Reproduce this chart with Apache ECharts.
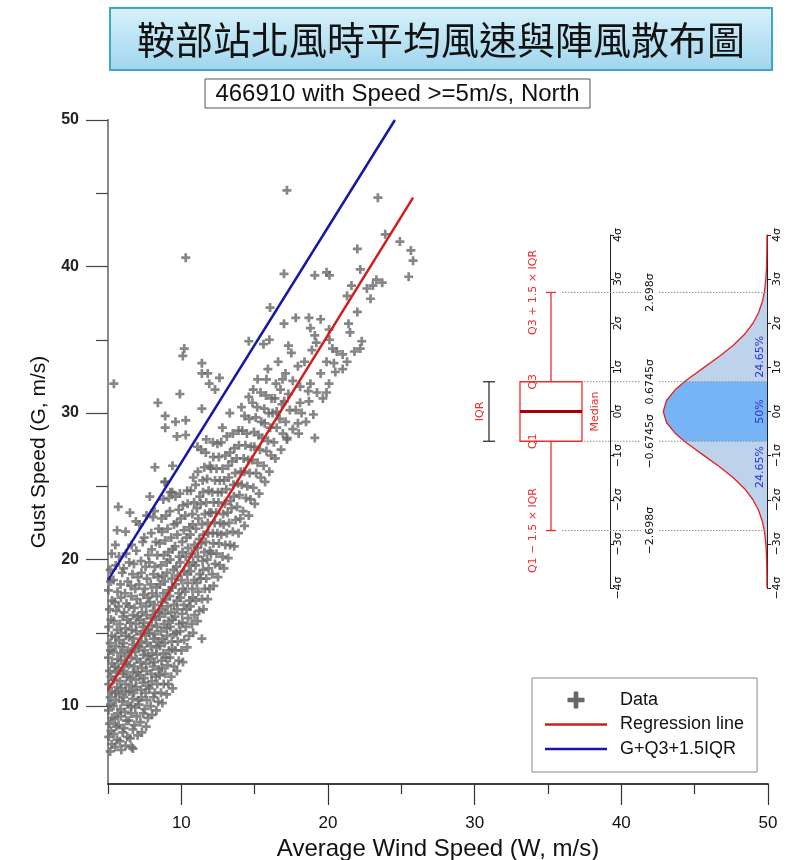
<!DOCTYPE html>
<html><head><meta charset="utf-8">
<script src="https://cdn.jsdelivr.net/npm/echarts@6/dist/echarts.min.js"></script>
<style>html,body{margin:0;padding:0;background:#fff}#c{width:789px;height:860px}</style>
</head><body><div id="c"></div>
<script>
const titleText = '鞍部站北風時平均風速與陣風散布圖';
const subtitleText = '466910 with Speed >=5m/s, North';
const xName = 'Average Wind Speed (W, m/s)';
const yName = 'Gust Speed (G, m/s)';
const xMajorTicks = [10, 20, 30, 40, 50];
const xMinorTicks = [5, 15, 25, 35, 45];
const yMajorTicks = [10, 20, 30, 40, 50];
const yMinorTicks = [15, 25, 35, 45];
const seriesNames = ['Data', 'Regression line', 'G+Q3+1.5IQR'];

// dense cloud (W, G) read column by column
const gustDense = [
[5.15,6.9],[5.25,7.4],[5.05,7.9],[5.2,8.3],[5.1,8.8],[5.27,9.2],[5.03,9.7],[5.17,10.1],[5.15,10.6],[5.25,11.0],[5.05,11.5],[5.2,12.0],[5.1,12.4],[5.27,12.9],[5.03,13.3],[5.17,13.8],[5.15,14.3],[5.25,14.8],[5.05,15.4],[5.2,15.9],[5.1,16.6],[5.27,17.2],[5.03,17.9],[5.17,18.5],[5.15,19.3],[5.25,20.4],
[5.5,7.2],[5.62,7.7],[5.4,8.1],[5.56,8.6],[5.46,9.1],[5.65,9.5],[5.37,10.0],[5.53,10.4],[5.5,10.9],[5.62,11.3],[5.4,11.8],[5.56,12.3],[5.46,12.7],[5.65,13.2],[5.37,13.7],[5.53,14.1],[5.5,14.7],[5.62,15.2],[5.4,15.8],[5.56,16.5],[5.46,17.1],[5.65,17.8],[5.37,18.6],[5.53,19.6],[5.5,21.0],[5.62,22.0],
[5.91,7.0],[5.81,7.6],[6.0,8.2],[5.72,8.7],[5.88,9.3],[5.85,9.8],[5.97,10.3],[5.75,10.8],[5.91,11.2],[5.81,11.7],[6.0,12.2],[5.72,12.6],[5.88,13.1],[5.85,13.6],[5.97,14.0],[5.75,14.5],[5.91,15.0],[5.81,15.6],[6.0,16.1],[5.72,16.8],[5.88,17.4],[5.85,18.3],[5.97,19.1],[5.75,20.2],[5.7,23.6],
[6.2,7.3],[6.32,7.9],[6.1,8.5],[6.26,9.0],[6.16,9.6],[6.35,10.1],[6.07,10.6],[6.23,11.0],[6.2,11.5],[6.32,12.0],[6.1,12.4],[6.26,12.9],[6.16,13.4],[6.35,13.8],[6.07,14.3],[6.23,14.8],[6.2,15.3],[6.32,15.9],[6.1,16.4],[6.26,17.0],[6.16,17.7],[6.35,18.5],[6.07,19.4],[6.23,20.4],[6.2,21.9],
[6.61,7.2],[6.51,7.8],[6.7,8.4],[6.42,9.0],[6.58,9.5],[6.55,10.0],[6.67,10.5],[6.45,11.0],[6.61,11.4],[6.51,11.9],[6.7,12.3],[6.42,12.8],[6.58,13.3],[6.55,13.7],[6.67,14.2],[6.45,14.7],[6.61,15.2],[6.51,15.7],[6.7,16.2],[6.42,16.8],[6.58,17.5],[6.55,18.2],[6.67,19.0],[6.45,19.8],[6.61,21.0],[6.5,23.2],
[6.7,7.1],[7.02,8.0],[6.8,8.7],[6.96,9.3],[6.86,9.9],[7.05,10.4],[6.77,10.9],[6.93,11.3],[6.9,11.8],[7.02,12.3],[6.8,12.7],[6.96,13.2],[6.86,13.7],[7.05,14.1],[6.77,14.6],[6.93,15.1],[6.9,15.6],[7.02,16.1],[6.8,16.7],[6.96,17.3],[6.86,18.0],[7.05,18.8],[6.77,19.7],[6.93,20.6],[6.9,22.6],
[7.31,8.2],[7.21,8.9],[7.4,9.5],[7.12,10.1],[7.28,10.6],[7.25,11.1],[7.37,11.6],[7.15,12.1],[7.31,12.6],[7.21,13.0],[7.4,13.5],[7.12,14.0],[7.28,14.4],[7.25,14.9],[7.37,15.4],[7.15,15.9],[7.31,16.4],[7.21,17.0],[7.4,17.6],[7.12,18.3],[7.28,19.1],[7.25,19.9],[7.37,21.2],[7.15,22.4],
[7.6,8.6],[7.72,9.2],[7.5,9.8],[7.66,10.4],[7.56,10.9],[7.75,11.4],[7.47,11.9],[7.63,12.4],[7.6,12.9],[7.72,13.4],[7.5,13.8],[7.66,14.3],[7.56,14.8],[7.75,15.2],[7.47,15.7],[7.63,16.2],[7.6,16.8],[7.72,17.4],[7.5,18.0],[7.66,18.7],[7.56,19.5],[7.75,20.3],[7.47,21.5],[7.63,23.0],
[8.01,9.4],[7.91,10.0],[8.1,10.6],[7.82,11.2],[7.98,11.7],[7.95,12.2],[8.07,12.7],[7.85,13.2],[8.01,13.6],[7.91,14.1],[8.1,14.6],[7.82,15.0],[7.98,15.5],[7.95,16.0],[8.07,16.5],[7.85,17.1],[8.01,17.7],[7.91,18.3],[8.1,19.0],[7.82,19.8],[7.98,20.7],[7.95,21.8],[8.07,22.9],[7.85,24.3],
[8.3,9.7],[8.42,10.3],[8.2,10.9],[8.36,11.5],[8.26,12.0],[8.45,12.5],[8.17,13.0],[8.33,13.5],[8.3,14.0],[8.42,14.4],[8.2,14.9],[8.36,15.4],[8.26,15.9],[8.45,16.4],[8.17,16.9],[8.33,17.5],[8.3,18.1],[8.42,18.8],[8.2,19.5],[8.36,20.3],[8.26,21.2],[8.45,22.1],[8.17,23.3],
[8.71,10.2],[8.61,10.9],[8.8,11.5],[8.52,12.1],[8.68,12.6],[8.65,13.1],[8.77,13.6],[8.55,14.1],[8.71,14.6],[8.61,15.1],[8.8,15.6],[8.52,16.1],[8.68,16.6],[8.65,17.1],[8.77,17.7],[8.55,18.3],[8.71,18.9],[8.61,19.6],[8.8,20.3],[8.52,21.1],[8.68,21.9],[8.65,22.8],[8.77,24.1],
[9.0,10.8],[9.12,11.5],[8.9,12.2],[9.06,12.8],[8.96,13.3],[9.15,13.8],[8.87,14.3],[9.03,14.8],[9.0,15.3],[9.12,15.8],[8.9,16.3],[9.06,16.8],[8.96,17.3],[9.15,17.9],[8.87,18.5],[9.03,19.1],[9.0,19.8],[9.12,20.5],[8.9,21.3],[9.06,22.1],[8.96,23.0],[9.15,24.2],[8.87,25.3],
[9.41,11.2],[9.31,12.0],[9.5,12.7],[9.22,13.3],[9.38,13.9],[9.35,14.4],[9.47,14.9],[9.25,15.4],[9.41,15.9],[9.31,16.4],[9.5,16.9],[9.22,17.5],[9.38,18.1],[9.35,18.7],[9.47,19.3],[9.25,20.0],[9.41,20.7],[9.31,21.5],[9.5,22.4],[9.22,23.3],[9.38,24.6],
[9.7,12.4],[9.82,13.1],[9.6,13.8],[9.76,14.4],[9.66,15.0],[9.85,15.6],[9.57,16.1],[9.73,16.6],[9.7,17.2],[9.82,17.7],[9.6,18.3],[9.76,18.9],[9.66,19.5],[9.85,20.2],[9.57,20.9],[9.73,21.7],[9.7,22.5],[9.82,23.4],[9.6,24.3],
[10.11,13.0],[10.01,13.8],[10.2,14.5],[9.92,15.1],[10.08,15.7],[10.05,16.3],[10.17,16.9],[9.95,17.4],[10.11,18.0],[10.01,18.6],[10.2,19.2],[9.92,19.8],[10.08,20.5],[10.05,21.2],[10.17,22.0],[9.95,22.8],[10.11,23.7],
[10.4,14.0],[10.52,14.8],[10.3,15.4],[10.46,16.0],[10.36,16.6],[10.55,17.2],[10.27,17.8],[10.43,18.4],[10.4,19.0],[10.52,19.6],[10.3,20.2],[10.46,20.8],[10.36,21.5],[10.55,22.2],[10.27,23.0],[10.43,23.8],[10.4,24.7],
[10.81,15.0],[10.71,15.6],[10.9,16.2],[10.62,16.8],[10.78,17.4],[10.75,18.0],[10.87,18.6],[10.65,19.2],[10.81,19.8],[10.71,20.4],[10.9,21.0],[10.62,21.7],[10.78,22.4],[10.75,23.1],[10.87,23.9],[10.65,24.7],[10.81,25.6],
[11.1,15.8],[11.22,16.5],[11.0,17.2],[11.16,17.8],[11.06,18.4],[11.25,19.0],[10.97,19.6],[11.13,20.2],[11.1,20.8],[11.22,21.4],[11.0,22.1],[11.16,22.8],[11.06,23.5],[11.25,24.3],[10.97,25.1],[11.13,26.0],
[11.51,16.6],[11.41,17.3],[11.6,18.0],[11.32,18.7],[11.48,19.3],[11.45,19.9],[11.57,20.5],[11.35,21.1],[11.51,21.7],[11.41,22.4],[11.6,23.1],[11.32,23.8],[11.48,24.6],[11.45,25.4],[11.57,26.3],[11.35,27.5],
[11.8,17.3],[11.92,18.0],[11.7,18.7],[11.86,19.4],[11.76,20.0],[11.95,20.6],[11.67,21.2],[11.83,21.8],[11.8,22.5],[11.92,23.2],[11.7,23.9],[11.86,24.7],[11.76,25.5],[11.95,26.4],[11.67,27.3],
[12.21,18.2],[12.11,19.0],[12.3,19.7],[12.02,20.4],[12.18,21.1],[12.15,21.8],[12.27,22.5],[12.05,23.2],[12.21,23.9],[12.11,24.6],[12.3,25.4],[12.02,26.2],[12.18,27.0],[12.15,28.0],
[12.5,18.8],[12.62,19.6],[12.4,20.4],[12.56,21.1],[12.46,21.8],[12.65,22.5],[12.37,23.2],[12.53,23.9],[12.5,24.6],[12.62,25.4],[12.4,26.2],[12.56,27.0],[12.46,27.9],
[12.91,19.4],[12.81,20.2],[13.0,21.0],[12.72,21.7],[12.88,22.4],[12.85,23.1],[12.97,23.8],[12.75,24.6],[12.91,25.4],[12.81,26.2],[13.0,27.1],[12.72,28.0],
[13.2,20.1],[13.32,21.0],[13.1,21.8],[13.26,22.5],[13.16,23.2],[13.35,24.0],[13.07,24.8],[13.23,25.6],[13.2,26.4],[13.32,27.3],[13.1,28.4],
[13.61,20.9],[13.51,21.9],[13.7,22.7],[13.42,23.5],[13.58,24.3],[13.55,25.1],[13.67,25.9],[13.45,26.7],[13.61,27.6],[13.51,28.6],
[13.9,21.8],[14.02,22.8],[13.8,23.6],[13.96,24.4],[13.86,25.2],[14.05,26.0],[13.77,26.9],[13.93,27.8],[13.9,28.8],
[14.31,22.3],[14.21,23.3],[14.4,24.2],[14.12,25.1],[14.28,26.0],[14.25,26.9],[14.37,27.8],[14.15,28.8],[14.31,29.8],
[14.6,23.0],[14.72,24.1],[14.5,25.0],[14.66,25.9],[14.56,26.8],[14.75,27.7],[14.47,28.6],[14.63,29.6],
[15.01,23.8],[14.91,24.9],[15.1,25.9],[14.82,26.8],[14.98,27.7],[14.95,28.7],[15.07,29.7],[14.85,30.7],
[15.3,24.5],[15.42,25.6],[15.2,26.6],[15.36,27.5],[15.26,28.5],[15.45,29.4],[15.17,30.4],
[15.71,25.3],[15.61,26.4],[15.8,27.4],[15.52,28.3],[15.68,29.3],[15.65,30.3],[15.77,31.2],
[16.0,26.0],[16.12,27.1],[15.9,28.1],[16.06,29.0],[15.96,30.0],[16.15,31.0],
[16.41,26.9],[16.31,28.0],[16.5,29.0],[16.22,30.0],[16.38,31.0],[16.45,32.0],
[16.8,27.5],[16.92,28.6],[16.7,29.6],[16.86,30.6],[16.76,31.6],
[17.21,28.3],[17.11,29.4],[17.3,31.3],[17.02,30.8],[17.6,28.9],[18.0,28.6],[18.5,29.4],[19.0,29.9],[17.8,30.2],[18.7,30.8]
];

// sparse points (W, G) read one by one
const gustSparse = [
[5.4,32.0],[10.3,40.6],[17.2,45.2],[23.4,44.7],[23.9,42.2],[24.9,41.7],[25.65,41.1],[25.8,40.4],[25.5,39.3],[23.7,38.9],
[22.0,41.2],[22.2,39.8],[19.9,39.6],[20.1,39.4],[19.1,39.4],[17.0,39.5],[21.6,38.7],[22.65,38.5],[23.06,38.7],[23.3,39.1],
[21.3,38.0],[22.9,37.8],[22.0,36.9],[21.4,36.1],[21.5,35.5],[22.3,34.9],[22.2,34.4],[16.05,37.2],[17.0,36.1],[17.8,36.5],
[18.7,36.5],[19.5,36.4],[18.8,35.8],[19.1,35.3],[19.2,34.8],[20.07,35.7],[20.1,35.0],[20.3,34.4],[20.6,34.2],[21.0,34.0],
[21.3,33.5],[19.9,33.5],[18.9,34.3],[17.3,34.6],[17.5,34.1],[18.4,33.5],[17.95,33.2],[19.5,32.7],[20.07,32.0],[18.8,32.0],
[19.25,31.4],[19.65,31.0],[19.9,31.4],[18.65,31.5],[17.1,32.7],[16.9,32.3],[17.6,32.2],[18.1,31.8],[15.8,32.3],[15.2,32.3],
[14.6,34.9],[15.6,34.7],[16.0,35.0],[16.5,30.1],[17.4,30.2],[18.1,30.7],[18.2,30.0],[17.95,29.3],[19.1,28.3],
[10.2,34.4],[10.1,33.9],[11.4,33.4],[11.4,32.7],[11.8,32.7],[12.6,32.4],[11.9,32.0],[12.3,31.6],[9.9,31.3],[8.4,30.7],
[11.4,30.3],[8.9,29.8],[9.6,29.4],[10.3,29.5],[8.9,29.0],[9.7,28.4],[10.3,28.5],[8.2,26.3],[9.4,26.4],[8.9,25.3],
[9.25,24.6],[9.9,24.5],[11.1,27.7],[11.7,28.2],[12.8,29.0],[13.3,30.0],[14.6,31.1],[15.4,31.4],[11.4,14.6],
[20.5,32.8],[21.0,33.0],[21.8,34.2],[20.4,33.4],[17.2,28.2],[14.1,30.4],[14.9,31.6],[15.9,33.0],[16.6,33.5]
];

const regressionLine = [[5, 11.09], [25.8, 44.7]];
const upperLimitLine = [[5, 18.6], [24.56, 50]];

// inset: box plot vs. normal distribution (in sigma units)
const sigmaTicks = [-4, -3, -2, -1, 0, 1, 2, 3, 4];
const boxStats = [-2.698, -0.6745, 0, 0.6745, 2.698];
const boxTexts = ['Q1 − 1.5 × IQR', 'Q1', 'Median', 'Q3', 'Q3 + 1.5 × IQR'];
const refValues = [-2.698, -0.6745, 0.6745, 2.698];
const refLabels = ['−2.698σ', '−0.6745σ', '0.6745σ', '2.698σ'];
const normZ = [-4,-3.75,-3.5,-3.25,-3,-2.75,-2.698,-2.5,-2.25,-2,-1.75,-1.5,-1.25,-1,-0.75,-0.6745,-0.5,-0.25,0,0.25,0.5,0.6745,0.75,1,1.25,1.5,1.75,2,2.25,2.5,2.698,2.75,3,3.25,3.5,3.75,4];
const normPdf = [0.0001,0.0004,0.0009,0.0020,0.0044,0.0091,0.0105,0.0175,0.0317,0.0540,0.0863,0.1295,0.1826,0.2420,0.3011,0.3178,0.3521,0.3867,0.3989,0.3867,0.3521,0.3178,0.3011,0.2420,0.1826,0.1295,0.0863,0.0540,0.0317,0.0175,0.0105,0.0091,0.0044,0.0020,0.0009,0.0004,0.0001];
const shareLabels = ['24.65%', '50%', '24.65%'];
const shareZ = [-1.26, 0, 1.24];

const sigmaFmt = v => (v < 0 ? '−' + (-v) : String(v)) + 'σ';
const plusPath = 'path://M2.8,0H5.2V2.8H8V5.2H5.2V8H2.8V5.2H0V2.8H2.8Z';
const legendPlus = 'path://M2.9,0H5.1V2.9H8V5.1H5.1V8H2.9V5.1H0V2.9H2.9Z';
const legendBar = 'path://M0,0H62V2.6H0Z';
const FONT = '"Liberation Sans", Arial, sans-serif';
const IFONT = '"DejaVu Sans", sans-serif';
const RED = '#ee2c2c';

const chart = echarts.init(document.getElementById('c'), null, {renderer: 'canvas'});

function boxItem(params, api) {
  const cx = api.coord([0, 0])[0];
  const Y = v => api.coord([0, v])[1];
  const lo = boxStats[0], q1 = boxStats[1], med = boxStats[2], q3 = boxStats[3], hi = boxStats[4];
  const dotted = {stroke: '#8c8c8c', lineWidth: 1, lineDash: [1.5, 1.5]};
  const ch = [];
  [[hi, 11], [q3, 33], [q1, 33], [lo, 11]].forEach(d => {
    const y = Y(d[0]);
    ch.push({type: 'line', shape: {x1: cx + d[1], y1: y, x2: cx + 90, y2: y}, style: dotted});
    ch.push({type: 'line', shape: {x1: cx + 108, y1: y, x2: cx + 216, y2: y}, style: dotted, z2: 5});
  });
  const redLine = {stroke: RED, lineWidth: 1.3};
  ch.push({type: 'line', shape: {x1: cx, y1: Y(q3), x2: cx, y2: Y(hi)}, style: redLine});
  ch.push({type: 'line', shape: {x1: cx, y1: Y(q1), x2: cx, y2: Y(lo)}, style: redLine});
  ch.push({type: 'line', shape: {x1: cx - 5, y1: Y(hi), x2: cx + 5, y2: Y(hi)}, style: redLine});
  ch.push({type: 'line', shape: {x1: cx - 5, y1: Y(lo), x2: cx + 5, y2: Y(lo)}, style: redLine});
  ch.push({type: 'rect', shape: {x: cx - 31, y: Y(q3), width: 62, height: Y(q1) - Y(q3)}, style: {fill: 'none', stroke: RED, lineWidth: 1.3}});
  ch.push({type: 'line', shape: {x1: cx - 31, y1: Y(med), x2: cx + 31, y2: Y(med)}, style: {stroke: '#a80000', lineWidth: 3}});
  const bx = cx - 62, blk = {stroke: '#333', lineWidth: 1.3};
  ch.push({type: 'line', shape: {x1: bx, y1: Y(q3), x2: bx, y2: Y(q1)}, style: blk});
  ch.push({type: 'line', shape: {x1: bx - 6, y1: Y(q3), x2: bx + 6, y2: Y(q3)}, style: blk});
  ch.push({type: 'line', shape: {x1: bx - 6, y1: Y(q1), x2: bx + 6, y2: Y(q1)}, style: blk});
  const txt = (t, x, y, color) => ({type: 'text', x: x, y: y, rotation: Math.PI / 2,
    style: {text: t, fill: color, font: '11px ' + IFONT, align: 'center', verticalAlign: 'middle'}});
  ch.push(txt('IQR', cx - 71, Y(med), RED));
  ch.push(txt(boxTexts[4], cx - 18, Y(hi), RED));
  ch.push(txt(boxTexts[3], cx - 18, Y(q3), RED));
  ch.push(txt(boxTexts[1], cx - 18, Y(q1), RED));
  ch.push(txt(boxTexts[0], cx - 18, Y(lo), RED));
  ch.push(txt(boxTexts[2], cx + 44, Y(med), RED));
  return {type: 'group', children: ch};
}

function pdfFillItem(params, api) {
  const poly = (z0, z1) => {
    const pts = [];
    normZ.forEach((z, i) => { if (z >= z0 - 1e-9 && z <= z1 + 1e-9) pts.push(api.coord([normPdf[i], z])); });
    pts.push(api.coord([0, z1]));
    pts.push(api.coord([0, z0]));
    return pts;
  };
  const ch = [
    {type: 'polygon', shape: {points: poly(-4, boxStats[1])}, style: {fill: '#bdd2eb'}},
    {type: 'polygon', shape: {points: poly(boxStats[3], 4)}, style: {fill: '#bdd2eb'}},
    {type: 'polygon', shape: {points: poly(boxStats[1], boxStats[3])}, style: {fill: '#76b4f6'}}
  ];
  shareLabels.forEach((t, i) => {
    const p = api.coord([0, shareZ[i]]);
    ch.push({type: 'text', x: p[0] - 7, y: p[1], rotation: Math.PI / 2,
      style: {text: t, fill: '#2d2de0', font: '11px ' + IFONT, align: 'center', verticalAlign: 'middle'}});
  });
  return {type: 'group', children: ch};
}

const insetAxis = (grid, extra) => Object.assign({
  type: 'value', gridIndex: grid, min: -4, max: 4, interval: 1, position: 'right',
  axisLine: {show: true, onZero: false, lineStyle: {color: '#222', width: 1}},
  axisTick: {show: true, length: 4, lineStyle: {color: '#222'}},
  axisLabel: {rotate: 90, margin: 3, fontSize: 11, fontFamily: IFONT, color: '#111', formatter: sigmaFmt},
  splitLine: {show: false}
}, extra);

chart.setOption({
  animation: false,
  backgroundColor: '#fff',
  grid: [
    {left: 108, right: 21, top: 120, bottom: 76, outerBoundsMode: 'none'},
    {left: 492, width: 118, top: 235, height: 353, outerBoundsMode: 'none'},
    {left: 663, width: 104, top: 235, height: 353, outerBoundsMode: 'none'}
  ],
  xAxis: [
    {type: 'value', gridIndex: 0, min: 5, max: 50, position: 'bottom',
     axisLine: {onZero: false, lineStyle: {color: '#333', width: 1.5}},
     axisTick: {customValues: xMinorTicks, length: 10, lineStyle: {color: '#333', width: 1.2}},
     axisLabel: {show: false}, splitLine: {show: false}},
    {type: 'value', gridIndex: 0, min: 5, max: 50, position: 'bottom',
     axisLine: {onZero: false, lineStyle: {color: '#333', width: 1.5}},
     axisTick: {customValues: xMajorTicks, length: 21, lineStyle: {color: '#333', width: 1.2}},
     axisLabel: {customValues: xMajorTicks, margin: 31, fontSize: 17, fontFamily: FONT, color: '#111'},
     splitLine: {show: false},
     name: xName, nameLocation: 'middle', nameGap: 50,
     nameTextStyle: {fontSize: 24, fontFamily: FONT, color: '#111'}},
    {type: 'value', gridIndex: 1, min: -1, max: 1, show: false},
    {type: 'value', gridIndex: 2, min: 0, max: 0.4, inverse: true, show: false}
  ],
  yAxis: [
    {type: 'value', gridIndex: 0, min: 4.68, max: 50, position: 'left',
     axisLine: {onZero: false, lineStyle: {color: '#8a8a8a', width: 2}},
     axisTick: {customValues: yMinorTicks, length: 12, lineStyle: {color: '#444', width: 1.2}},
     axisLabel: {show: false}, splitLine: {show: false}},
    {type: 'value', gridIndex: 0, min: 4.68, max: 50, position: 'left',
     axisLine: {onZero: false, lineStyle: {color: '#8a8a8a', width: 2}},
     axisTick: {customValues: yMajorTicks, length: 22, lineStyle: {color: '#444', width: 1.2}},
     axisLabel: {customValues: yMajorTicks, margin: 29, fontSize: 16, fontWeight: 'bold', fontFamily: FONT, color: '#222'},
     splitLine: {show: false},
     name: yName, nameLocation: 'middle', nameGap: 58,
     nameTextStyle: {fontSize: 21, fontFamily: FONT, color: '#111'}},
    insetAxis(1, {}),
    insetAxis(1, {offset: 33, interval: null,
      axisLine: {show: false, onZero: false}, axisTick: {show: false},
      axisLabel: {customValues: refValues, rotate: 90, margin: 2, fontSize: 11, fontFamily: IFONT, color: '#111',
        backgroundColor: '#fff', padding: [0, 1],
        formatter: v => refLabels[refValues.indexOf(v)] || ''}}),
    insetAxis(2, {axisLabel: {rotate: 90, margin: 5, fontSize: 11, fontFamily: IFONT, color: '#111', formatter: sigmaFmt}})
  ],
  legend: {
    orient: 'vertical', left: 532, top: 678,
    itemWidth: 62, itemHeight: 17, itemGap: 6.5,
    padding: [13, 13, 14, 13],
    backgroundColor: '#fff', borderColor: '#8a8a8a', borderWidth: 1, borderRadius: 0,
    textStyle: {fontSize: 18, fontFamily: FONT, color: '#111', padding: [0, 0, 0, 8]},
    data: [
      {name: seriesNames[0], icon: legendPlus, itemStyle: {color: '#444'}},
      {name: seriesNames[1], icon: legendBar, itemStyle: {color: '#d21d1d'}},
      {name: seriesNames[2], icon: legendBar, itemStyle: {color: '#1616a8'}}
    ]
  },
  graphic: [
    {type: 'rect', shape: {x: 110, y: 8, width: 662, height: 62},
     style: {fill: {type: 'linear', x: 0, y: 0, x2: 0, y2: 1,
       colorStops: [{offset: 0, color: '#d9f2fb'}, {offset: 1, color: '#9fd5ed'}]},
       stroke: '#3da9c6', lineWidth: 2}},
    {type: 'text', x: 441, y: 40,
     style: {text: titleText, font: '38px "Noto Sans CJK TC"', fill: '#111', textAlign: 'center', textVerticalAlign: 'middle'}},
    {type: 'rect', shape: {x: 205, y: 79, width: 385, height: 29},
     style: {fill: '#fff', stroke: '#555', lineWidth: 1}},
    {type: 'text', x: 397.5, y: 94,
     style: {text: subtitleText, font: '24px ' + FONT, fill: '#111', textAlign: 'center', textVerticalAlign: 'middle'}}
  ],
  series: [
    {name: seriesNames[0], type: 'scatter', xAxisIndex: 0, yAxisIndex: 0,
     data: gustDense.concat(gustSparse), symbol: plusPath, symbolSize: 9,
     itemStyle: {color: '#686868'}, z: 2},
    {name: seriesNames[1], type: 'line', xAxisIndex: 0, yAxisIndex: 0, data: regressionLine,
     symbol: 'none', showSymbol: false, lineStyle: {color: '#d21d1d', width: 2.5}, itemStyle: {color: '#d21d1d'}, z: 3},
    {name: seriesNames[2], type: 'line', xAxisIndex: 0, yAxisIndex: 0, data: upperLimitLine,
     symbol: 'none', showSymbol: false, lineStyle: {color: '#1616a8', width: 2.5}, itemStyle: {color: '#1616a8'}, z: 3},
    {type: 'custom', xAxisIndex: 2, yAxisIndex: 2, data: [[0, 0]], renderItem: boxItem, z: 4, silent: true},
    {type: 'custom', xAxisIndex: 3, yAxisIndex: 4, data: [[0, 0]], renderItem: pdfFillItem, z: 2, silent: true},
    {type: 'line', xAxisIndex: 3, yAxisIndex: 4, data: normZ.map((z, i) => [normPdf[i], z]),
     symbol: 'none', lineStyle: {color: '#e82020', width: 1.3}, z: 3, silent: true}
  ]
});
</script></body></html>
